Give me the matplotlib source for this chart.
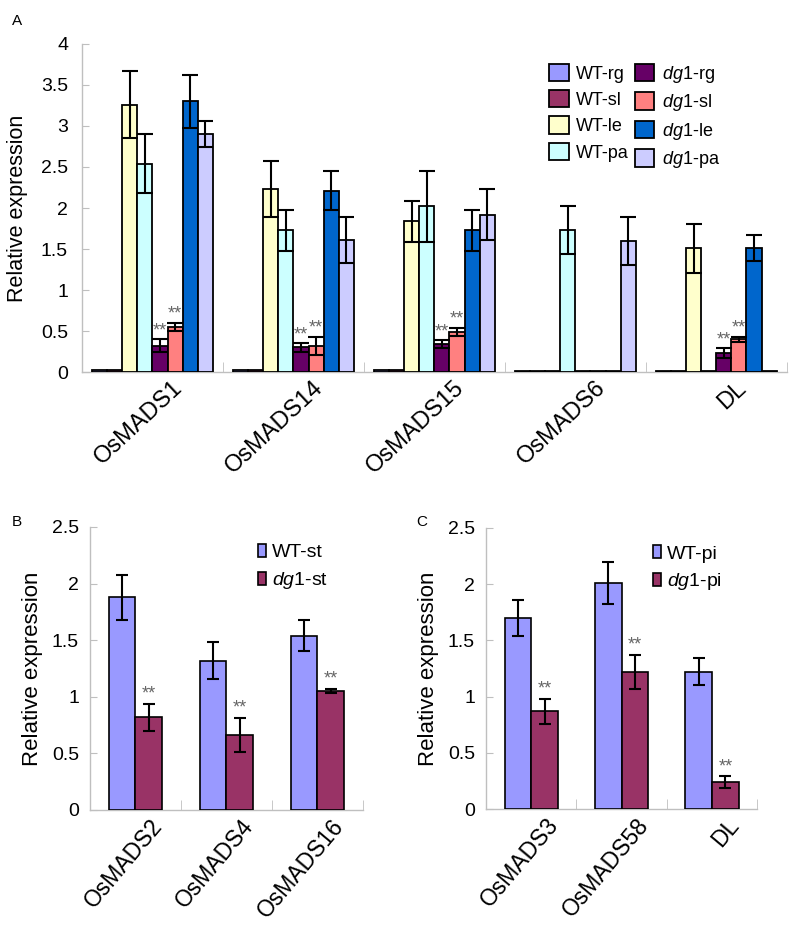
import matplotlib
matplotlib.use('Agg')
import matplotlib.pyplot as plt
from matplotlib.patches import Patch
from matplotlib.ticker import FixedLocator, FuncFormatter
import numpy as np

plt.rcParams['font.family'] = ['Liberation Sans', 'DejaVu Sans']
plt.rcParams['mathtext.fontset'] = 'custom'
plt.rcParams['mathtext.it'] = 'Liberation Sans:italic'
plt.rcParams['mathtext.rm'] = 'Liberation Sans'

# ---------------- Data: panel A ----------------
genes_a = ['OsMADS1', 'OsMADS14', 'OsMADS15', 'OsMADS6', 'DL']
series_a = ['WT-rg', 'WT-sl', 'WT-le', 'WT-pa', 'dg1-rg', 'dg1-sl', 'dg1-le', 'dg1-pa']
wt_rg = [0.03, 0.03, 0.03, 0.01, 0.01]
wt_rg_err = [0, 0, 0, 0, 0]
wt_sl = [0.03, 0.03, 0.03, 0.01, 0.01]
wt_sl_err = [0, 0, 0, 0, 0]
wt_le = [3.26, 2.23, 1.84, 0.01, 1.51]
wt_le_err = [0.41, 0.34, 0.25, 0, 0.30]
wt_pa = [2.54, 1.73, 2.02, 1.73, 0.01]
wt_pa_err = [0.36, 0.25, 0.43, 0.29, 0]
dg1_rg = [0.32, 0.30, 0.34, 0.01, 0.23]
dg1_rg_err = [0.08, 0.05, 0.05, 0, 0.06]
dg1_sl = [0.55, 0.32, 0.49, 0.01, 0.40]
dg1_sl_err = [0.05, 0.11, 0.05, 0, 0.03]
dg1_le = [3.30, 2.21, 1.73, 0.01, 1.51]
dg1_le_err = [0.32, 0.24, 0.25, 0, 0.16]
dg1_pa = [2.90, 1.61, 1.92, 1.60, 0.01]
dg1_pa_err = [0.16, 0.28, 0.31, 0.29, 0]
sig_groups_a = [0, 1, 2, 4]   # groups with ** on dg1-rg and dg1-sl

# ---------------- Data: panel B ----------------
genes_b = ['OsMADS2', 'OsMADS4', 'OsMADS16']
wt_st = [1.88, 1.32, 1.54]
wt_st_err = [0.20, 0.16, 0.14]
dg1_st = [0.82, 0.66, 1.05]
dg1_st_err = [0.12, 0.15, 0.02]

# ---------------- Data: panel C ----------------
genes_c = ['OsMADS3', 'OsMADS58', 'DL']
wt_pi = [1.70, 2.01, 1.22]
wt_pi_err = [0.16, 0.19, 0.12]
dg1_pi = [0.87, 1.22, 0.24]
dg1_pi_err = [0.11, 0.15, 0.05]

colors_a = ['#9999FF', '#993366', '#FFFFCC', '#CCFFFF',
            '#660066', '#FF8080', '#0066CC', '#CCCCFF']
GRAY = '#BFBFBF'


def label_of(name):
    if name.startswith('dg1'):
        return r'$\mathit{dg1}$' + name[3:]
    return name


def fmt(v, pos):
    return ('%g' % v)


def style_axes(ax, n, ymax, ystep, labelsize, pad):
    for s in ['top', 'right']:
        ax.spines[s].set_visible(False)
    for s in ['left', 'bottom']:
        ax.spines[s].set_color(GRAY)
        ax.spines[s].set_linewidth(1.0)
    ax.set_xlim(-0.5, n - 0.5)
    ax.set_ylim(0, ymax)
    ax.yaxis.set_major_locator(FixedLocator(np.arange(0, ymax + 1e-9, ystep)))
    ax.yaxis.set_major_formatter(FuncFormatter(fmt))
    ax.tick_params(axis='y', direction='in', length=5, color=GRAY,
                   labelsize=labelsize, pad=pad)
    ax.set_xticks(np.arange(n))
    ax.set_xticks(np.arange(n + 1) - 0.5, minor=True)
    ax.tick_params(axis='x', which='major', length=0)
    ax.tick_params(axis='x', which='minor', direction='in', length=7,
                   color=GRAY)


fig = plt.figure(figsize=(8, 9.34), dpi=100)

# ================= Panel A =================
axA = fig.add_axes([0.1025, 0.6017, 0.881, 0.3512])
vals_a = [wt_rg, wt_sl, wt_le, wt_pa, dg1_rg, dg1_sl, dg1_le, dg1_pa]
errs_a = [wt_rg_err, wt_sl_err, wt_le_err, wt_pa_err,
          dg1_rg_err, dg1_sl_err, dg1_le_err, dg1_pa_err]
x = np.arange(len(genes_a))
bw = 0.107
for k, (v, e, c, name) in enumerate(zip(vals_a, errs_a, colors_a, series_a)):
    xs = x + (k - 3.5) * bw
    axA.bar(xs, v, width=bw, color=c, edgecolor='black', linewidth=1.3,
            label=label_of(name), zorder=3)
    ev = np.array(e, dtype=float)
    mask = ev > 0
    axA.errorbar(xs[mask], np.array(v)[mask], yerr=ev[mask], fmt='none',
                 ecolor='black', elinewidth=1.5, capsize=5.5, capthick=1.5,
                 zorder=4)
for g in sig_groups_a:
    for k in (4, 5):
        xx = x[g] + (k - 3.5) * bw
        top = vals_a[k][g] + errs_a[k][g]
        axA.annotate('**', (xx, top), xytext=(0, 0), textcoords='offset points',
                     ha='center', va='bottom', fontsize=13, color='#666666')
style_axes(axA, len(genes_a), 4, 0.5, 14, 10)
axA.set_xticklabels(genes_a, rotation=43, ha='right', va='top',
                    rotation_mode='anchor', fontsize=17)
axA.set_ylabel('Relative expression', fontsize=15.5, labelpad=9)
handles = [Patch(facecolor=c, edgecolor='black', linewidth=1.3)
           for c in colors_a]
labels = [label_of(n) for n in series_a]
axA.legend(handles, labels, ncol=2, loc='upper left',
           bbox_to_anchor=(0.64, 0.99), frameon=False, fontsize=13,
           handlelength=1.1, handleheight=1.1, handletextpad=0.4,
           columnspacing=0.3, labelspacing=0.42)
for lab in axA.get_xticklabels():
    lab.set_transform(lab.get_transform() +
                      matplotlib.transforms.ScaledTranslation(14 / 72, 0, fig.dpi_scale_trans))


def pair_panel(rect, genes, wt, wt_err, mut, mut_err, labs):
    ax = fig.add_axes(rect)
    xx = np.arange(len(genes))
    w = 0.295
    ax.bar(xx - w / 2, wt, width=w, color='#9999FF', edgecolor='black',
           linewidth=1.2, zorder=3)
    ax.bar(xx + w / 2, mut, width=w, color='#993366', edgecolor='black',
           linewidth=1.2, zorder=3)
    ax.errorbar(xx - w / 2, wt, yerr=wt_err, fmt='none', ecolor='black',
                elinewidth=1.5, capsize=4, capthick=1.5, zorder=4)
    ax.errorbar(xx + w / 2, mut, yerr=mut_err, fmt='none', ecolor='black',
                elinewidth=1.5, capsize=4, capthick=1.5, zorder=4)
    for i in range(len(genes)):
        ax.annotate('**', (xx[i] + w / 2, mut[i] + mut_err[i]), xytext=(0, 1),
                    textcoords='offset points', ha='center', va='bottom',
                    fontsize=13, color='#666666')
    style_axes(ax, len(genes), 2.5, 0.5, 14, 8)
    ax.set_xticklabels(genes, rotation=50, ha='right', va='top',
                       rotation_mode='anchor', fontsize=16.5)
    for lab in ax.get_xticklabels():
        lab.set_transform(lab.get_transform() +
                          matplotlib.transforms.ScaledTranslation(10 / 72, 0, fig.dpi_scale_trans))
    ax.set_ylabel('Relative expression', fontsize=16, labelpad=6)
    hs = [Patch(facecolor='#9999FF', edgecolor='black', linewidth=1.2),
          Patch(facecolor='#993366', edgecolor='black', linewidth=1.2)]
    ax.legend(hs, labs, loc='upper left', bbox_to_anchor=(0.55, 1.0),
              frameon=False, fontsize=14, handlelength=0.45,
              handleheight=0.6, handletextpad=0.3, labelspacing=0.45)
    return ax


pair_panel([0.1125, 0.1328, 0.341, 0.303], genes_b, wt_st, wt_st_err,
           dg1_st, dg1_st_err, ['WT-st', r'$\mathit{dg1}$-st'])
pair_panel([0.6075, 0.1338, 0.339, 0.3009], genes_c, wt_pi, wt_pi_err,
           dg1_pi, dg1_pi_err, ['WT-pi', r'$\mathit{dg1}$-pi'])

fig.text(0.015, 0.985, 'A', fontsize=11, va='top', ha='left')
fig.text(0.015, 0.449, 'B', fontsize=11, va='top', ha='left')
fig.text(0.52, 0.449, 'C', fontsize=11, va='top', ha='left')

fig.savefig('out.png', dpi=100)
